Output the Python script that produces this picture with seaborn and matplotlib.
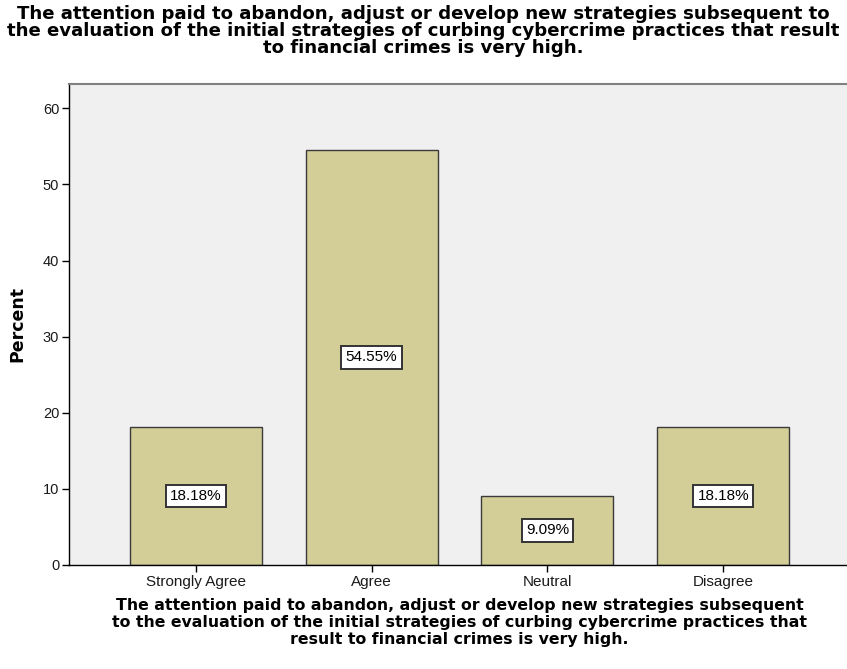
import matplotlib
matplotlib.use("Agg")
import matplotlib.pyplot as plt
import seaborn as sns
import pandas as pd

categories = ["Strongly Agree", "Agree", "Neutral", "Disagree"]
percents = [18.18, 54.55, 9.09, 18.18]
y_ticks = [0, 10, 20, 30, 40, 50, 60]

title_text = ("The attention paid to abandon, adjust or develop new strategies subsequent to\n"
              "the evaluation of the initial strategies of curbing cybercrime practices that result\n"
              "to financial crimes is very high.")
xlabel_text = ("The attention paid to abandon, adjust or develop new strategies subsequent\n"
               "to the evaluation of the initial strategies of curbing cybercrime practices that\n"
               "result to financial crimes is very high.")

df = pd.DataFrame({"category": categories, "percent": percents})

sns.set_style("white")
plt.rcParams["font.family"] = ["Liberation Sans", "DejaVu Sans"]
bold_family = ["DejaVu Sans"]

fig = plt.figure(figsize=(8.47, 6.69), dpi=100)
ax = fig.add_axes([69 / 847, 104 / 669, (850 - 69) / 847, (565 - 84) / 669])
ax.set_facecolor("#f0f0f0")

sns.barplot(data=df, x="category", y="percent", order=categories, color="#d3ce97",
            width=0.75, edgecolor="#3a3a3a", linewidth=1.0, saturation=1, ax=ax)

for i, v in enumerate(percents):
    ax.text(i, v / 2, f"{v:.2f}%", ha="center", va="center", fontsize=11, color="black",
            bbox=dict(boxstyle="square,pad=0.28", facecolor="white", edgecolor="#333333", linewidth=1.4))

ax.set_xlim(-0.72, 3.72)
ax.set_ylim(0, 63.2)
ax.set_yticks(y_ticks)
ax.set_yticklabels([str(t) for t in y_ticks], fontsize=10.5, color="#1a1a1a")
ax.tick_params(axis="x", labelsize=11, labelcolor="#1a1a1a")
ax.tick_params(axis="both", direction="out", length=5, width=1, color="black", left=True, bottom=True, pad=2)

for side in ["left", "bottom"]:
    ax.spines[side].set_color("black")
    ax.spines[side].set_linewidth(1.0)
ax.spines["top"].set_color("#808080")
ax.spines["top"].set_linewidth(1.5)
ax.spines["right"].set_visible(False)

ax.set_ylabel("Percent", fontsize=12.5, fontweight="bold", family=bold_family, labelpad=12, color="black")
ax.set_xlabel(xlabel_text, fontsize=11.3, fontweight="bold", family=bold_family, linespacing=1.15,
              labelpad=7, color="black")

fig.text(0.5, 0.993, title_text, ha="center", va="top", fontsize=13.1, fontweight="bold",
         family=bold_family, linespacing=0.93, color="black")

fig.savefig("out.png", dpi=100)
